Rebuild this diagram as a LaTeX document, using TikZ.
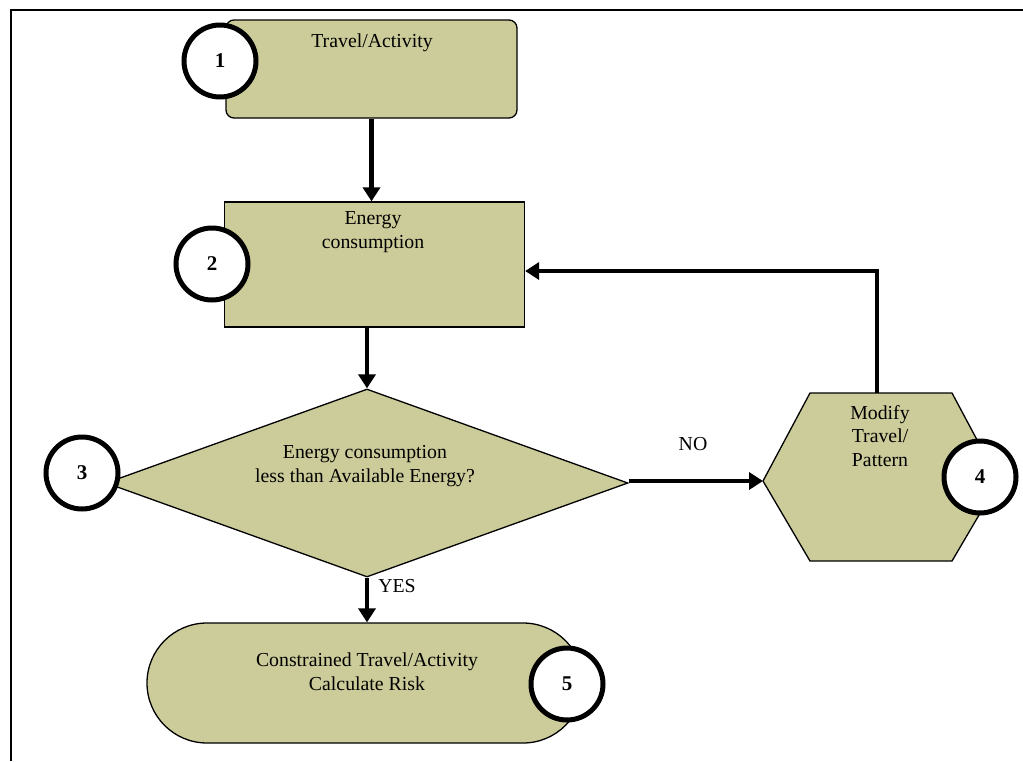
\documentclass[tikz,border=0pt]{standalone}
\usepackage{fontspec}
\setmainfont{Liberation Serif}
\usetikzlibrary{arrows.meta,shapes.geometric}
\definecolor{shapefill}{RGB}{204,204,154}
\begin{document}
\begin{tikzpicture}[x=1pt,y=-1pt,
  shp/.style={draw=black, line width=1.3pt, fill=shapefill, inner sep=0pt},
  num/.style={circle, draw=black, line width=5pt, fill=white, minimum size=72pt, inner sep=0pt, font=\fontsize{21}{24}\selectfont\bfseries},
  txt/.style={align=center, font=\fontsize{19.8}{23.8}\selectfont, inner sep=0pt},
  arr/.style={line width=4.5pt, -{Triangle[length=14pt,width=17pt]}},
  frame/.style={line width=1.8pt}]
\useasboundingbox (0,0) rectangle (1023,761);
\draw[frame] (11,761) -- (11,10) -- (1023,10);

% shapes
\node[shp, rectangle, rounded corners=8pt, minimum width=291pt, minimum height=98pt] (b1) at (371.5,69) {};
\node[shp, rectangle, minimum width=300pt, minimum height=125pt] (b2) at (374.5,264.5) {};
\node[shp, diamond, aspect=2.78, minimum width=522pt, minimum height=188pt] (d3) at (367,483) {};
\draw[shp] (763,481) coordinate (hexL) -- (810,393) -- (877,393) coordinate (hexT) -- (952,393) -- (999,481) -- (952,561) -- (810,561) -- cycle;
\coordinate (fb) at (877,271);
\node[shp, rectangle, rounded corners=60pt, minimum width=436pt, minimum height=120pt] (s5) at (365,683) {};

% texts
\node[txt] (t1) at (372,43) {Travel/Activity};
\node[txt] (t2) at (373,232) {Energy\\consumption};
\node[txt] (t3) at (365,466) {Energy consumption\\less than Available Energy?};
\node[txt] (t4) at (880,436) {Modify\\Travel/\\Pattern};
\node[txt] (t5) at (367,672) {Constrained Travel/Activity\\Calculate Risk};
\node[txt] (no) at (693,444) {NO};
\node[txt] (yes) at (397,586) {YES};

% connectors
\draw[arr] (b1.south) -- (b1.south |- b2.north);
\draw[arr] (d3.north |- b2.south) -- (d3.north);
\draw[arr] (d3.east |- hexL) -- (hexL);
\draw[arr] (hexT) -- (fb) -- (fb -| b2.east);
\draw[arr] (d3.south) -- (d3.south |- s5.north);

% number circles
\node[num] (c1) at (220,61) {1};
\node[num] (c2) at (212,264) {2};
\node[num] (c3) at (82,473) {3};
\node[num] (c4) at (980,477) {4};
\node[num] (c5) at (567,684) {5};
\end{tikzpicture}
\end{document}
